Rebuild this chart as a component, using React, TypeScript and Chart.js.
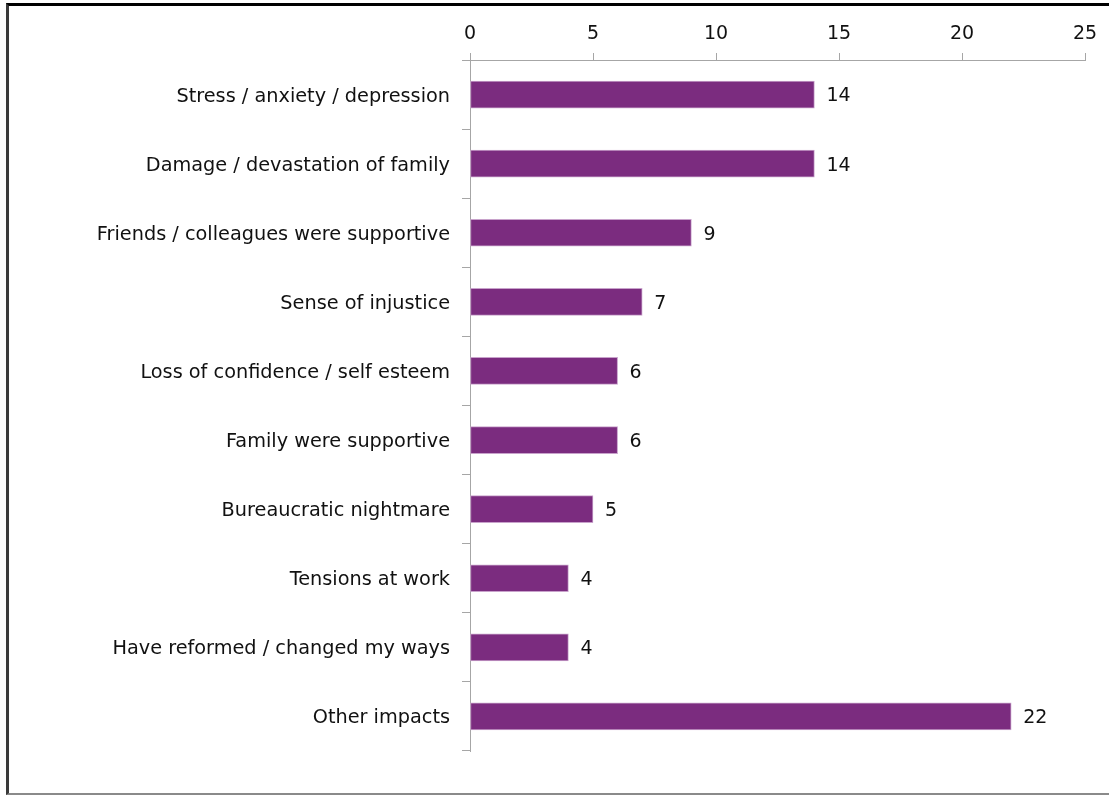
import React, { useEffect, useRef } from "react";
import { Chart, registerables } from "chart.js";

Chart.register(...registerables);

const categories: string[] = [
  "Stress / anxiety / depression",
  "Damage / devastation of family",
  "Friends / colleagues were supportive",
  "Sense of injustice",
  "Loss of confidence / self esteem",
  "Family were supportive",
  "Bureaucratic nightmare",
  "Tensions at work",
  "Have reformed / changed my ways",
  "Other impacts",
];

const counts: number[] = [14, 14, 9, 7, 6, 6, 5, 4, 4, 22];

const xTickValues: number[] = [0, 5, 10, 15, 20, 25];

const FONT = "'DejaVu Sans', Tahoma, sans-serif";
const BAR_COLOR = "#7B2C7F";
const BAR_BORDER = "#C8A2CB";
const AXIS_COLOR = "#A6A6A6";
const TEXT_COLOR = "#111";

const valueLabels = {
  id: "valueLabels",
  afterDatasetsDraw(chart: any) {
    const ctx = chart.ctx;
    const meta = chart.getDatasetMeta(0);
    ctx.save();
    ctx.font = `19px ${FONT}`;
    ctx.fillStyle = TEXT_COLOR;
    ctx.textAlign = "left";
    ctx.textBaseline = "middle";
    meta.data.forEach((bar: any, i: number) => {
      ctx.fillText(String(counts[i]), bar.x + 12, bar.y + 2);
    });
    ctx.restore();
  },
};

export default function App() {
  const ref = useRef<HTMLCanvasElement | null>(null);

  useEffect(() => {
    document.body.style.margin = "0";
    const canvas = ref.current;
    if (!canvas) return;
    const chart = new Chart(canvas, {
      type: "bar",
      data: {
        labels: categories,
        datasets: [
          {
            data: counts,
            backgroundColor: BAR_COLOR,
            borderColor: BAR_BORDER,
            borderWidth: 1,
            barThickness: 27,
            borderSkipped: false,
          },
        ],
      },
      options: {
        indexAxis: "y",
        animation: false,
        responsive: false,
        maintainAspectRatio: false,
        layout: { padding: { left: 0, top: 0, right: 24, bottom: 44 } },
        plugins: {
          legend: { display: false },
          tooltip: { enabled: false },
        },
        scales: {
          x: {
            position: "top",
            min: 0,
            max: 25,
            afterBuildTicks(scale: any) {
              scale.ticks = xTickValues.map((v) => ({ value: v }));
            },
            afterFit(scale: any) {
              scale.height = 60;
            },
            border: { display: true, color: AXIS_COLOR, width: 1 },
            grid: {
              display: true,
              drawOnChartArea: false,
              drawTicks: true,
              tickLength: 7,
              color: AXIS_COLOR,
            },
            ticks: {
              color: TEXT_COLOR,
              padding: 8,
              font: { family: FONT, size: 19 },
            },
          },
          y: {
            afterFit(scale: any) {
              scale.width = 470;
            },
            border: { display: true, color: AXIS_COLOR, width: 1 },
            grid: {
              display: true,
              offset: true,
              drawOnChartArea: false,
              drawTicks: true,
              tickLength: 8,
              color: AXIS_COLOR,
            },
            ticks: {
              color: TEXT_COLOR,
              padding: 12,
              labelOffset: 2,
              font: { family: FONT, size: 19.3 },
            },
          },
        },
      },
      plugins: [valueLabels],
    });
    return () => chart.destroy();
  }, []);

  return (
    <div style={{ position: "relative", width: 1109, height: 795, overflow: "hidden", background: "#fff" }}>
      <div
        style={{
          position: "absolute",
          left: 6,
          top: 3,
          width: 1200,
          height: 787,
          borderTop: "3px solid #000",
          borderLeft: "3px solid #3a3a3a",
          borderBottom: "2px solid #8a8a8a",
        }}
      />
      <canvas ref={ref} width={1109} height={795} style={{ position: "absolute", left: 0, top: 0 }} />
    </div>
  );
}
